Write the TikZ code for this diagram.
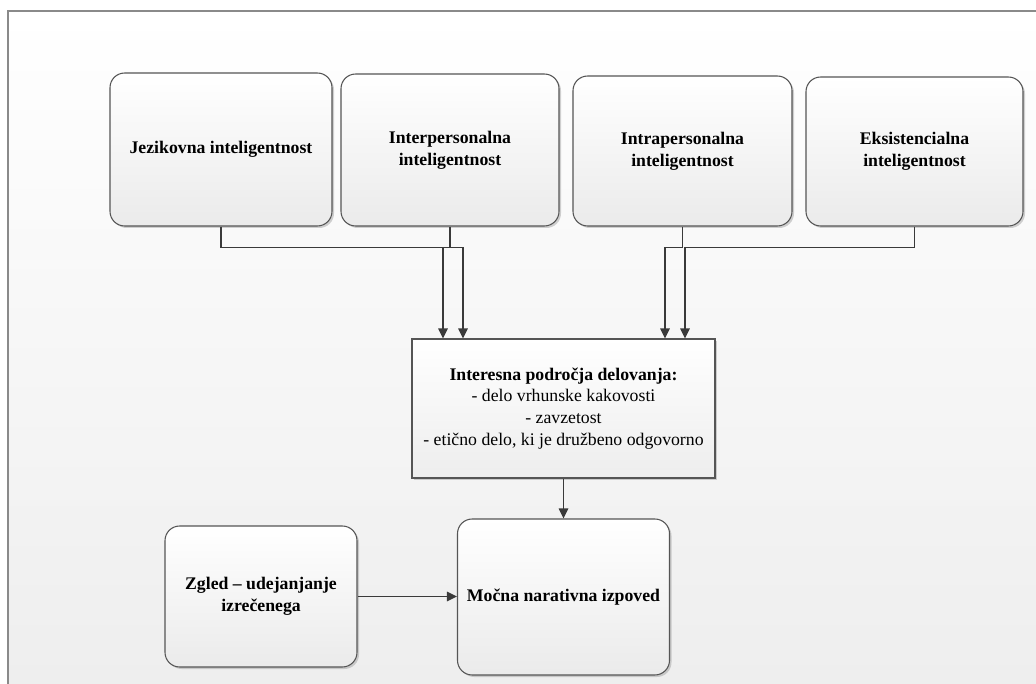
\documentclass[tikz,border=0pt]{standalone}
\usepackage{fontspec}
\setmainfont{Liberation Serif}
\usetikzlibrary{arrows.meta,shadows,calc}
\definecolor{edge}{HTML}{555555}
\definecolor{wire}{HTML}{3A3A3A}
\definecolor{frameline}{HTML}{8A8A8A}
\definecolor{paperlow}{HTML}{EEEEEE}
\begin{document}
\begin{tikzpicture}[x=0.75pt,y=-0.75pt,
  txt/.style={font=\fontsize{13.3}{16.3}\selectfont, align=center, text=black},
  card/.style={txt, draw=edge, line width=0.8pt, rounded corners=11pt,
    top color=white, bottom color=black!8, inner sep=0pt,
    drop shadow={shadow xshift=1.5pt, shadow yshift=-1.5pt, fill=black!40, opacity=0.45}},
  panel/.style={txt, draw=edge, line width=0.8pt,
    top color=white, bottom color=black!7, inner sep=0pt,
    drop shadow={shadow xshift=1.5pt, shadow yshift=-1.5pt, fill=black!40, opacity=0.45}},
  wirearrow/.style={draw=wire, line width=1.2pt, -{Triangle[length=7.5pt,width=7pt]}},
]
\useasboundingbox (0,0) rectangle (1036,684);
% page background and frame
\fill[white] (0,0) rectangle (1036,684);
\shade[top color=white, bottom color=paperlow] (8,11) rectangle (1036,684);
\draw[frameline, line width=1.2pt] (8,684) -- (8,11) -- (1036,11);

% top row of intelligences
\node[card, minimum width=166.5pt, minimum height=114.75pt] (b1) at (221,149.5)
  {\textbf{Jezikovna inteligentnost}};
\node[card, minimum width=163.5pt, minimum height=114pt] (b2) at (450,150)
  {\textbf{Interpersonalna}\\\textbf{inteligentnost}};
\node[card, minimum width=164.25pt, minimum height=112.5pt] (b3) at (682.5,151)
  {\textbf{Intrapersonalna}\\\textbf{inteligentnost}};
\node[card, minimum width=162.75pt, minimum height=111.75pt] (b4) at (914.5,151.5)
  {\textbf{Eksistencialna}\\\textbf{inteligentnost}};

% areas of activity
\node[panel, minimum width=227.25pt, minimum height=104.25pt] (mid) at (563.5,408.5)
  {\textbf{Interesna področja delovanja:}\\- delo vrhunske kakovosti\\- zavzetost\\- etično delo, ki je družbeno odgovorno};

% bottom row
\node[card, minimum width=144pt, minimum height=105.75pt] (zgled) at (261,596.5)
  {\textbf{Zgled – udejanjanje}\\\textbf{izrečenega}};
\node[card, minimum width=159pt, minimum height=117pt] (mocna) at (563.5,597)
  {\textbf{Močna narativna izpoved}};

% connectors
\draw[wirearrow] (b1.south) -- ++(0,21) -| ($(mid.north)+(-100.5,0)$);
\draw[wirearrow] (b2.south) -- ++(0,21) -| ($(mid.north)+(-120.5,0)$);
\draw[wirearrow] (b3.south) -- ++(0,21) -| ($(mid.north)+(101.5,0)$);
\draw[wirearrow] (b4.south) -- ++(0,21) -| ($(mid.north)+(121.5,0)$);
\draw[wirearrow] (mid.south) -- (mocna.north);
\draw[wirearrow] (zgled.east) -- (zgled.east -| mocna.west);
\end{tikzpicture}
\end{document}
